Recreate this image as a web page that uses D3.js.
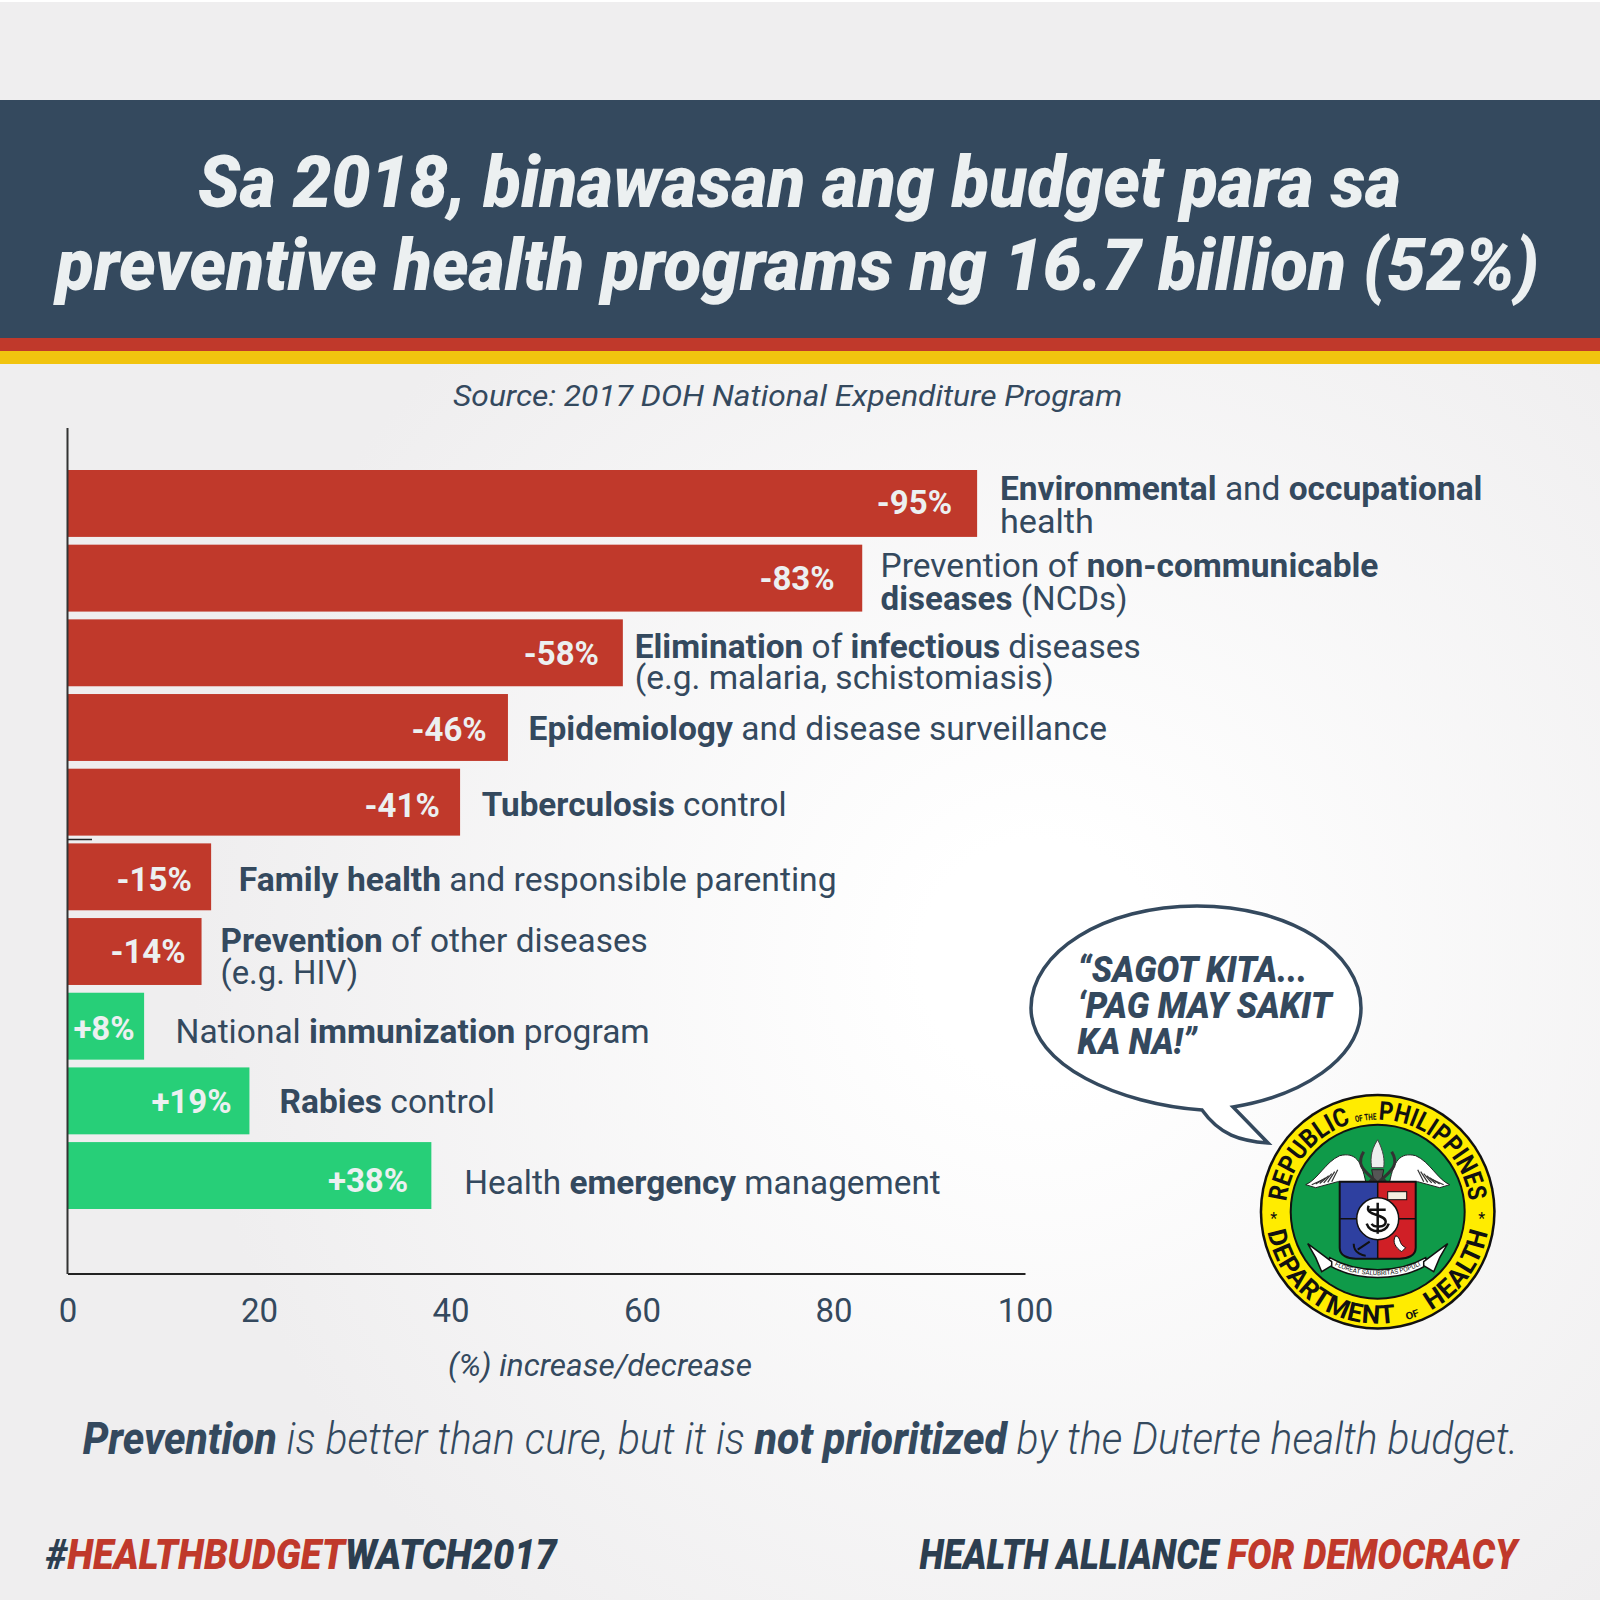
<!DOCTYPE html>
<html><head><meta charset="utf-8">
<script src="https://cdn.jsdelivr.net/npm/d3@7/dist/d3.min.js"></script>
<style>html,body{margin:0;padding:0;background:#efeeef}svg{display:block}text{font-family:Roboto,sans-serif}</style>
</head><body><div id="c"></div>
<script>
// ---- data ----
const categories = ["Environmental and occupational health","Prevention of non-communicable diseases (NCDs)","Elimination of infectious diseases (e.g. malaria, schistomiasis)","Epidemiology and disease surveillance","Tuberculosis control","Family health and responsible parenting","Prevention of other diseases (e.g. HIV)","National immunization program","Rabies control","Health emergency management"];
const changes = [-95,-83,-58,-46,-41,-15,-14,8,19,38];
const xTicks = [0,20,40,60,80,100];
const titleLines = ["Sa 2018, binawasan ang budget para sa","preventive health programs ng 16.7 billion (52%)"];
const sourceText = "Source: 2017 DOH National Expenditure Program";
const axisTitle = "(%) increase/decrease";
const bubbleLines = ["“SAGOT KITA...","‘PAG MAY SAKIT","KA NA!”"];
// rich label lines: [text, bold?]
const labelLines = [
 [[["Environmental",1],[" and ",0],["occupational",1]],[["health",0]]],
 [[["Prevention of ",0],["non-communicable",1]],[["diseases",1],[" (NCDs)",0]]],
 [[["Elimination",1],[" of ",0],["infectious",1],[" diseases",0]],[["(e.g. malaria, schistomiasis)",0]]],
 [[["Epidemiology",1],[" and disease surveillance",0]]],
 [[["Tuberculosis",1],[" control",0]]],
 [[["Family health",1],[" and responsible parenting",0]]],
 [[["Prevention",1],[" of other diseases",0]],[["(e.g. HIV)",0]]],
 [[["National ",0],["immunization",1],[" program",0]]],
 [[["Rabies",1],[" control",0]]],
 [[["Health ",0],["emergency",1],[" management",0]]]
];

// ---- layout (hand-placed annotation geometry, in 1568-wide units) ----
const k = 1600/1568;
const labelLayout = [
 [[980,1453,490],[980,1072,522]],
 [[863,1351,565],[863,1105,597.5]],
 [[622,1118,644.5],[622,1033,675.5]],
 [[518,1085,725]],
 [[472,771,799.5]],
 [[234,820,873]],
 [[216,635,932.5],[216,351,964.5]],
 [[172,637,1022]],
 [[274,485,1090.5]],
 [[455,922,1170.5]]
];
const valueRight = [933,818,587,477,431,188,182,132,227,400];
const valueBase = [504,578,652,726,801,873,944,1019,1091,1168];

const NAVY="#2c3e50", SLATE="#34495e", RED="#c0392b", GREEN="#27cf78", YEL="#f1c40f", PALE="#ecf0f1";

const svg = d3.select("#c").append("svg").attr("width",1600).attr("height",1600).attr("viewBox","0 0 1600 1600");
const defs = svg.append("defs");
const rg = defs.append("radialGradient").attr("id","bg").attr("gradientUnits","userSpaceOnUse")
  .attr("cx",1040).attr("cy",960).attr("r",1000);
rg.append("stop").attr("offset","0.12").attr("stop-color","#ffffff");
rg.append("stop").attr("offset","0.85").attr("stop-color","#efeeef");
svg.append("rect").attr("width",1600).attr("height",1600).attr("fill","url(#bg)");
svg.append("rect").attr("width",1600).attr("height",2).attr("fill","#ffffff");

// banner
svg.append("rect").attr("y",100).attr("width",1600).attr("height",238).attr("fill",SLATE);
svg.append("rect").attr("y",338).attr("width",1600).attr("height",13).attr("fill",RED);
svg.append("rect").attr("y",351).attr("width",1600).attr("height",13).attr("fill",YEL);

// rich text, horizontally fitted to a span given in 1568-wide units
function rich(parent,x0,x1,y,segs,o){
  const t = parent.append("text").attr("font-size",o.size)
    .attr("font-style",o.italic?"italic":"normal");
  segs.forEach(s=>{
    t.append("tspan").text(s[0]).attr("xml:space","preserve").style("white-space","pre")
     .attr("font-weight",s[1]?(o.boldW||700):(o.w||400))
     .attr("fill",s[2]||o.fill);
  });
  const len = t.node().getComputedTextLength();
  const sx = ((x1-x0)*k)/len;
  t.attr("transform",`translate(${x0*k},${y*k}) scale(${sx},1)`);
  return t;
}

// title
rich(svg,194,1373,203,[[titleLines[0],1]],{size:72,italic:1,fill:PALE,boldW:900});
rich(svg,55,1508,284,[[titleLines[1],1]],{size:72,italic:1,fill:PALE,boldW:900});
rich(svg,444,1100,398,[[sourceText,0]],{size:29,italic:1,fill:SLATE});

// scales + bars
const x = d3.scaleLinear().domain([0,100]).range([67.5,1025]);
const y = d3.scaleBand().domain(categories).range([470,1209]).paddingInner(0.104);
const g = svg.append("g");
g.selectAll("rect.bar").data(categories).join("rect").attr("class","bar")
  .attr("x",x(0)).attr("y",d=>y(d)).attr("height",y.bandwidth())
  .attr("width",(d,i)=>x(Math.abs(changes[i]))-x(0))
  .attr("fill",(d,i)=>changes[i]<0?RED:GREEN);

// axes
const axis = d3.axisBottom(x).tickValues(xTicks).tickSize(0).tickPadding(25);
const ag = svg.append("g").attr("transform","translate(0,1273.5)").call(axis);
ag.select(".domain").attr("stroke","#222").attr("stroke-width",2);
ag.selectAll("text").attr("font-size",33).attr("fill",SLATE).attr("font-family","Roboto");
svg.append("line").attr("x1",x(0)).attr("x2",x(0)).attr("y1",428).attr("y2",1274).attr("stroke","#333").attr("stroke-width",2);
svg.append("line").attr("x1",x(0)).attr("x2",92).attr("y1",839.5).attr("y2",839.5).attr("stroke","#222").attr("stroke-width",1.5);
rich(svg,439,737,1348,[[axisTitle,0]],{size:31,italic:1,fill:SLATE});

// value labels
changes.forEach((v,i)=>{
  svg.append("text").attr("x",valueRight[i]*k).attr("y",valueBase[i]*k).attr("text-anchor","end")
    .attr("font-size",33).attr("font-weight",700).attr("fill",PALE)
    .text((v>0?"+":"")+v+"%");
});
// category labels
labelLines.forEach((lines,i)=>lines.forEach((segs,j)=>{
  const l = labelLayout[i][j];
  rich(svg,l[0],l[1],l[2],segs,{size:33,fill:SLATE});
}));

// bottom tagline + footer
rich(svg,81,1488,1425,[["Prevention",1],[" is better than cure, but it is ",0],["not prioritized",1],[" by the Duterte health budget.",0]],
  {size:44,italic:1,fill:SLATE,w:300,boldW:800});
rich(svg,45,546,1538,[["#",1,NAVY],["HEALTHBUDGET",1,RED],["WATCH2017",1,NAVY]],{size:42,italic:1,fill:NAVY,boldW:900});
rich(svg,901,1194,1538,[["HEALTH ALLIANCE",1,NAVY]],{size:42,italic:1,fill:NAVY,boldW:900});
rich(svg,1203,1487,1538,[["FOR DEMOCRACY",1,RED]],{size:42,italic:1,fill:RED,boldW:900});

// speech bubble
const bub = svg.append("g");
bub.append("path").attr("fill","#fff").attr("stroke",SLATE).attr("stroke-width",3.5).attr("stroke-linejoin","miter")
  .attr("d",`M1202,1110 C1120,1104 1031,1066 1031,1008 C1031,952 1104,906 1197,906 C1290,906 1361,952 1361,1008 C1361,1060 1300,1096 1233,1107 L1268,1143 C1240,1141 1220,1135 1202,1110 Z`);
rich(bub,1056,1281,962,[[bubbleLines[0],1]],{size:37,italic:1,fill:SLATE,boldW:900});
rich(bub,1056,1305,998,[[bubbleLines[1],1]],{size:37,italic:1,fill:SLATE,boldW:900});
rich(bub,1056,1173,1033,[[bubbleLines[2],1]],{size:37,italic:1,fill:SLATE,boldW:900});

// Department of Health seal
const s = svg.append("g").attr("transform","translate(1377.7,1211.7)");
s.append("circle").attr("r",118).attr("fill","#111");
s.append("circle").attr("r",115.5).attr("fill","#ffec00");
s.append("circle").attr("r",88).attr("fill","#111");
s.append("circle").attr("r",86).attr("fill","#0f9a49");
defs.append("path").attr("id","sealTop").attr("d","M-92,0 A92,92 0 0 1 92,0");
defs.append("path").attr("id","sealBot").attr("d","M-112,0 A112,112 0 0 0 112,0");
function arcWord(pathId,txt,offset,len,size,adjust){
  s.append("text").attr("font-weight",700).attr("font-size",size).attr("fill","#111")
   .append("textPath").attr("href","#"+pathId).attr("startOffset",offset)
   .attr("textLength",len).attr("lengthAdjust",adjust).text(txt);
}
arcWord("sealTop","REPUBLIC",10,107,26,"spacingAndGlyphs");
arcWord("sealTop","OF THE",122,21,9,"spacingAndGlyphs");
arcWord("sealTop","PHILIPPINES",145,133,26,"spacingAndGlyphs");
arcWord("sealBot","DEPARTMENT",20,174,26,"spacing");
arcWord("sealBot","OF",205,14,10,"spacingAndGlyphs");
arcWord("sealBot","HEALTH",231,100,26,"spacing");
s.append("text").attr("x",-104).attr("y",12).attr("text-anchor","middle").attr("font-size",16).attr("fill","#111").text("*");
s.append("text").attr("x",104).attr("y",12).attr("text-anchor","middle").attr("font-size",16).attr("fill","#111").text("*");
// wings
[-1,1].forEach(d=>{
  const w = s.append("g").attr("transform",`scale(${d},1)`);
  w.append("path").attr("d","M12,-30 C16,-50 22,-60 38,-56 C52,-50 60,-32 72,-27 L62,-24 L40,-30 L28,-28 L26,-18 L14,-18 Z")
    .attr("fill","#fff").attr("stroke","#222").attr("stroke-width",1);
  d3.range(6).forEach(i=>w.append("line").attr("x1",40+i*3).attr("y1",-42+i*2).attr("x2",46+i*4).attr("y2",-30+i*0.6).attr("stroke","#333").attr("stroke-width",1.2));
});
// torch & staff
s.append("path").attr("d","M-6,-42 L6,-42 L3,-26 L-3,-26 Z").attr("fill","#555").attr("stroke","#222");
s.append("path").attr("d","M0,-72 C-8,-60 -7,-50 -6,-44 L6,-44 C7,-52 6,-60 0,-72 Z").attr("fill","#eee").attr("stroke","#444");
s.append("path").attr("d","M-14,-60 C-24,-44 -8,-38 0,-28 C8,-38 24,-44 14,-60").attr("fill","none").attr("stroke","#333").attr("stroke-width",3);
s.append("path").attr("d","M-8,-32 L8,-18 M8,-32 L-8,-18").attr("stroke","#333").attr("stroke-width",3);
// shield
const shield="M-38,-30 L38,-30 L38,36 C38,44 30,47 22,47 L-22,47 C-30,47 -38,44 -38,36 Z";
defs.append("clipPath").attr("id","sh").append("path").attr("d",shield);
const sh=s.append("g").attr("clip-path","url(#sh)");
sh.append("rect").attr("x",-40).attr("y",-31).attr("width",40).attr("height",84).attr("fill","#2e40a0");
sh.append("rect").attr("x",0).attr("y",-31).attr("width",40).attr("height",84).attr("fill","#d01f26");
s.append("path").attr("d",shield).attr("fill","none").attr("stroke","#111").attr("stroke-width",2);
s.append("line").attr("x1",0).attr("x2",0).attr("y1",-30).attr("y2",47).attr("stroke","#111").attr("stroke-width",1.5);
s.append("line").attr("x1",-38).attr("x2",38).attr("y1",7).attr("y2",7).attr("stroke","#111").attr("stroke-width",1.5);
s.append("rect").attr("x",10).attr("y",-20).attr("width",19).attr("height",8).attr("fill","#f5f0e0").attr("stroke","#111");
s.append("circle").attr("cy",7).attr("r",21).attr("fill","#fff").attr("stroke","#111").attr("stroke-width",1.5);
s.append("path").attr("d","M0,-9 L0,22 M-8,-2 L8,-2 M-11,12 C-8,22 8,22 11,12 M-9,-6 C-14,4 8,2 8,10 C8,16 -4,16 -6,12").attr("fill","none").attr("stroke","#111").attr("stroke-width",2.5);
s.append("path").attr("d","M-20,38 L-8,30 M-24,32 C-24,42 -14,44 -12,44").attr("fill","none").attr("stroke","#111").attr("stroke-width",2);
s.append("path").attr("d","M18,24 C24,26 20,32 28,36 L24,40 C18,36 14,30 18,24 Z").attr("fill","#fff").attr("stroke","#111");
// ribbon
s.append("path").attr("d","M-48,46 C-20,62 20,62 48,46 L50,53 C22,70 -22,70 -50,53 Z").attr("fill","#fff").attr("stroke","#111").attr("stroke-width",1.5);
s.append("path").attr("d","M-46,50 L-70,32 L-62,46 L-56,60 L-46,54 Z").attr("fill","#fff").attr("stroke","#111").attr("stroke-width",1.5);
s.append("path").attr("d","M46,50 L70,32 L62,46 L56,60 L46,54 Z").attr("fill","#fff").attr("stroke","#111").attr("stroke-width",1.5);
defs.append("path").attr("id","rib").attr("d","M-44,53 C-20,67 20,67 44,53");
s.append("text").attr("font-size",6.5).attr("fill","#111").append("textPath").attr("href","#rib").attr("startOffset","50%").attr("text-anchor","middle").text("FLOREAT SALUBRITAS POPULI");
</script></body></html>
